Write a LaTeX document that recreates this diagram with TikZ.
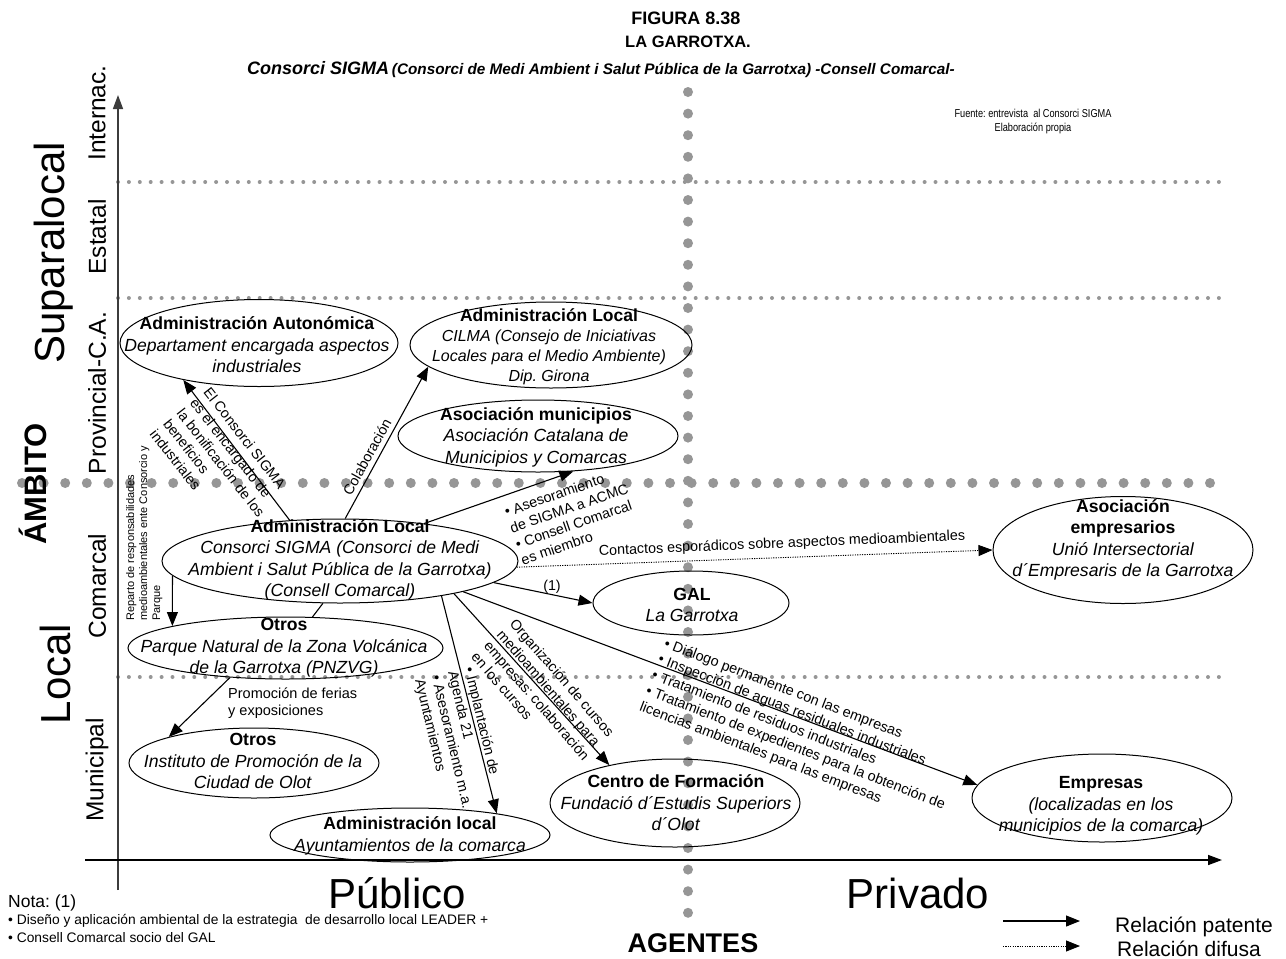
\documentclass[tikz,border=0pt]{standalone}
\usepackage{fontspec}
\setmainfont{Liberation Sans}
\usetikzlibrary{shapes.geometric,arrows.meta}
\definecolor{dotgray}{RGB}{150,150,150}
\definecolor{axisgray}{RGB}{60,60,60}
\newcommand{\fs}[2]{\fontsize{#1}{#2}\selectfont}
\frenchspacing
\begin{document}
\begin{tikzpicture}[x=1pt,y=-1pt,
 ell/.style={draw, ellipse, inner sep=0pt, line width=1pt},
 etext/.style={align=center, inner sep=0pt, font=\fs{17.6}{21.5}},
 rel/.style={line width=1.1pt, -{Triangle[length=14pt,width=11pt]}},
 dif/.style={line width=0.9pt, dash pattern=on 1.2pt off 1.2pt, -{Triangle[length=14pt,width=11pt]}},
 alabel/.style={inner sep=0pt, font=\fs{14.3}{17}, align=left},
 smalldots/.style={dotgray, line width=4pt, line cap=round, dash pattern=on 0pt off 10.9pt},
 bigdots/.style={dotgray, line width=10pt, line cap=round, dash pattern=on 0pt off 21.6pt},
 axis/.style={line width=1.5pt, axisgray, -{Triangle[length=14pt,width=10pt]}},
 lvl/.style={rotate=90, inner sep=0pt, font=\fs{24.5}{28}},
 big/.style={inner sep=0pt, font=\fs{42}{48}},
]
\useasboundingbox (0,0) rectangle (1286,959);

% ---- grid of dotted lines
\draw[smalldots] (118,182) -- (1225,182);
\draw[smalldots] (118,298) -- (1225,298);
\draw[smalldots] (118,677) -- (1225,677);
\draw[bigdots] (22,483) -- (1215,483);
\draw[bigdots] (688,92) -- (688,930);

% ---- axes
\coordinate (yb) at (118,890);
\coordinate (yt) at (118,95);
\coordinate (xl) at (85,860);
\coordinate (xr) at (1222,860);
\draw[axis] (yb) -- (yt);
\draw[axis, black] (xl) -- (xr);

% ---- titles
\node[font=\bfseries\fs{18}{21}] (t1) at (686,18) {FIGURA 8.38};
\node[font=\bfseries\fs{16.5}{19}] (t2) at (688,42) {LA GARROTXA.};
\node[font=\bfseries\itshape] (t3) at (601,70) {{\fs{18}{21}Consorci SIGMA} {\fs{15.3}{18}(Consorci de Medi Ambient i Salut Pública de la Garrotxa) -Consell Comarcal-}};
\node[inner sep=0pt] (src1) at (1033,113) {\scalebox{0.8}[1]{\fs{11.5}{14}Fuente: entrevista\ \ al Consorci SIGMA}};
\node[inner sep=0pt] (src2) at (1033,128) {\scalebox{0.8}[1]{\fs{11.5}{14}Elaboración propia}};

% ---- axis labels
\node[lvl] (internac) at (97,113) {Internac.};
\node[lvl] (estatal) at (97,237) {Estatal};
\node[lvl] (provincial) at (97,393) {Provincial-C.A.};
\node[lvl] (comarcal) at (97,586) {Comarcal};
\node[lvl] (municipal) at (97,770) {Municipal};
\node[big, rotate=90] (supra) at (54,253) {Suparalocal};
\node[big, rotate=90] (local) at (55,674) {Local};
\node[rotate=90, inner sep=0pt, font=\bfseries\fs{31}{34}] (ambito) at (33,484) {ÁMBITO};
\node[big] (publico) at (397,893) {Público};
\node[big] (privado) at (918,893) {Privado};
\node[inner sep=0pt, font=\bfseries\fs{27}{30}] (agentes) at (693,943) {AGENTES};

% ---- ellipses
\node[ell, minimum width=278pt, minimum height=87pt] (aut) at (259,343) {};
\node[etext] (autT) at (257,345) {\textbf{Administración Autonómica}\\\textit{Departament encargada aspectos}\\\textit{industriales}};

\node[ell, minimum width=282pt, minimum height=86pt] (cilma) at (551,345) {};
\node[etext, font=\fs{16}{20}] (cilmaT) at (549,347) {{\fs{17.5}{20}\bfseries Administración Local}\\\textit{CILMA (Consejo de Iniciativas}\\\textit{Locales para el Medio Ambiente)}\\\textit{Dip. Girona}};

\node[ell, minimum width=280pt, minimum height=72pt] (asoc) at (538,436) {};
\node[etext] (asocT) at (536,437) {\textbf{Asociación municipios}\\\textit{Asociación Catalana de}\\\textit{Municipios y Comarcas}};

\node[ell, minimum width=356pt, minimum height=84pt] (main) at (340,561) {};
\node[etext] (mainT) at (340,560) {\textbf{Administración Local}\\\textit{Consorci SIGMA (Consorci de Medi}\\\textit{Ambient i Salut Pública de la Garrotxa)}\\\textit{(Consell Comarcal)}};

\node[ell, minimum width=260pt, minimum height=107pt] (asem) at (1123,550) {};
\node[etext] (asemT) at (1123,540) {\textbf{Asociación}\\\textbf{empresarios}\\\textit{Unió Intersectorial}\\\textit{d´Empresaris de la Garrotxa}};

\node[ell, minimum width=196pt, minimum height=64pt] (gal) at (691,603) {};
\node[etext] (galT) at (692,605) {\textbf{GAL}\\\textit{La Garrotxa}};

\node[ell, minimum width=315pt, minimum height=62pt] (parque) at (285.5,648) {};
\node[etext] (parqueT) at (284,648) {\textbf{Otros}\\\textit{Parque Natural de la Zona Volcánica}\\\textit{de la Garrotxa (PNZVG)}};

\node[ell, minimum width=250pt, minimum height=70pt] (inst) at (254,763) {};
\node[etext] (instT) at (253,761) {\textbf{Otros}\\\textit{Instituto de Promoción de la}\\\textit{Ciudad de Olot}};

\node[ell, minimum width=280pt, minimum height=54pt] (ayunt) at (410,835) {};
\node[etext] (ayuntT) at (410,836) {\textbf{Administración local}\\\textit{Ayuntamientos de la comarca}};

\node[ell, minimum width=250pt, minimum height=88pt] (centro) at (675,803) {};
\node[etext] (centroT) at (676,803) {\textbf{Centro de Formación}\\\textit{Fundació d´Estudis Superiors}\\\textit{d´Olot}};

\node[ell, minimum width=260pt, minimum height=88pt] (empresas) at (1102,798) {};
\node[etext] (empresasT) at (1101,806) {\textbf{Empresas}\\\textit{(localizadas en los}\\\textit{municipios de la comarca)}};

% ---- connectors
\draw[rel] (main.141) -- (aut.206);
\draw[rel] (main.83) -- (cilma.190);
\draw[rel] (main.24) -- (asoc.315);
\draw[dif] (main.358) -- (asem.180);
\draw[rel] (main.352) -- (gal.180);
\draw[rel] (main.346.5) -- (empresas.174);
\draw[rel] (main.344) -- (centro.150);
\draw[rel] (main.341.6) -- (ayunt.14.5);
\draw[rel] (main.185) -- (parque.169);
\draw[line width=1.1pt] (main.248) -- (parque.49);
\draw[rel] (parque.208.6) -- (inst.163);

% ---- connector labels
\node[alabel, rotate=-52, anchor=north west] (l1) at (211,386) {El Consorci SIGMA\\es el encargado de\\la bonificación de los\\beneficios\\industriales};
\node[alabel, rotate=61] (l2) at (367,457) {Colaboración};
\node[alabel, rotate=19, anchor=north west] (l3) at (503,507) {• Asesoramiento\\de SIGMA a ACMC\\• Consell Comarcal\\es miembro};
\node[alabel, rotate=2.4] (l4) at (782,544) {Contactos esporádicos sobre aspectos medioambientales};
\node[alabel] (l5) at (552,587) {(1)};
\node[alabel, rotate=-21, anchor=north west] (l6) at (667,637) {• Diálogo permanente con las empresas\\• Inspección de aguas residuales industriales\\• Tratamiento de residuos industriales\\• Tratamiento de expedientes para la obtención de\\licencias ambientales para las empresas};
\node[alabel, rotate=-49, anchor=north west] (l7) at (517,617) {Organización de cursos\\medioambientales para\\empresas: colaboración\\en los cursos};
\node[alabel, rotate=-76.6, anchor=north west] (l8) at (475,666) {• Implantación de\\Agenda 21\\• Asesoramiento m.a.\\Ayuntamientos};
\node[inner sep=0pt, font=\fs{11}{13}, align=left, rotate=90, anchor=north west] (l9) at (126,621) {Reparto de responsabilidades\\medioambientales ente Consorcio y\\Parque};
\node[alabel, anchor=north west, font=\fs{14.5}{17}] (l10) at (228,688) {Promoción de ferias\\y exposiciones};

% ---- notes
\node[anchor=west, inner sep=0pt, font=\fs{17.5}{20}] (nota) at (8,903) {Nota: (1)};
\node[anchor=west, inner sep=0pt, font=\fs{13.8}{16}] (nota1) at (8,921) {• Diseño y aplicación ambiental de la estrategia\ \ de desarrollo local LEADER +};
\node[anchor=west, inner sep=0pt, font=\fs{13.8}{16}] (nota2) at (8,938) {• Consell Comarcal socio del GAL};

% ---- legend
\coordinate (lg1a) at (1003,921);
\coordinate (lg1b) at (1080,921);
\coordinate (lg2a) at (1003,946);
\coordinate (lg2b) at (1080,946);
\draw[rel] (lg1a) -- (lg1b);
\draw[dif] (lg2a) -- (lg2b);
\node[anchor=west, inner sep=0pt, font=\fs{21}{24}] (leg1) at (1115,927) {Relación patente};
\node[anchor=west, inner sep=0pt, font=\fs{21}{24}] (leg2) at (1117,949) {Relación difusa};
\end{tikzpicture}
\end{document}
